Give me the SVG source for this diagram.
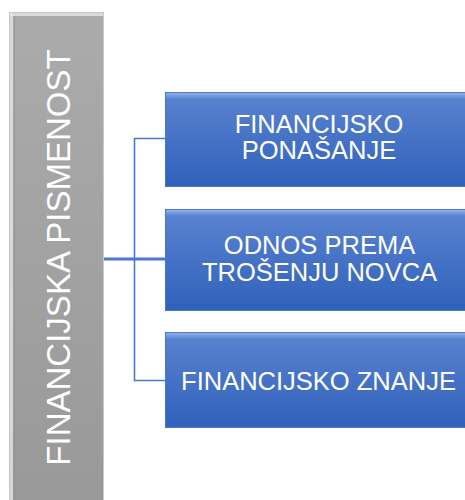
<svg xmlns="http://www.w3.org/2000/svg" width="465" height="500" viewBox="0 0 465 500">
<defs>
<linearGradient id="blue" x1="0" y1="0" x2="0" y2="1">
<stop offset="0" stop-color="#5b84d1"/>
<stop offset="1" stop-color="#3061bb"/>
</linearGradient>
<linearGradient id="gray" x1="0" y1="0" x2="0" y2="1">
<stop offset="0" stop-color="#ababab"/>
<stop offset="1" stop-color="#999999"/>
</linearGradient>
<linearGradient id="blueTop" x1="0" y1="0" x2="0" y2="1">
<stop offset="0" stop-color="#8fb0ec"/>
<stop offset="1" stop-color="#8fb0ec" stop-opacity="0"/>
</linearGradient>
</defs>
<style>
.box{fill:url(#blue);stroke:#4a78cc;stroke-width:1}
.hl{fill:url(#blueTop)}
.t{font-family:"Liberation Sans",Arial,sans-serif;font-size:25.5px;fill:#ffffff;text-anchor:middle}
.conn{fill:none;stroke:#4a78cc}
</style>
<rect width="465" height="500" fill="#ffffff"/>
<g id="connectors">
<path class="conn" stroke-width="3" d="M104,259 H166"/>
<path class="conn" stroke-width="1.6" d="M166,138.5 H134.5 V380.5 H166"/>
</g>
<g id="root">
<rect x="9.5" y="12.5" width="94" height="490" fill="url(#gray)" stroke="#c8c8c8" stroke-width="1"/>
<rect x="10" y="13" width="93" height="3" fill="#e6e6e6" opacity="0.8"/>
<rect x="10" y="13" width="3" height="487" fill="#e6e6e6" opacity="0.8"/>
<rect x="14" y="17" width="1" height="483" fill="#8d8d8d" opacity="0.6"/>
<text class="t" style="font-size:33px" transform="translate(70,257.5) rotate(-90)">FINANCIJSKA PISMENOST</text>
</g>
<g id="n1">
<rect class="box" x="165.5" y="92.5" width="305" height="94"/>
<rect class="hl" x="166" y="93" width="304" height="6"/>
<text class="t" x="319" y="133">FINANCIJSKO</text>
<text class="t" x="319" y="159">PONAŠANJE</text>
</g>
<g id="n2">
<rect class="box" x="165.5" y="209.5" width="305" height="101"/>
<rect class="hl" x="166" y="210" width="304" height="6"/>
<text class="t" x="319.5" y="254">ODNOS PREMA</text>
<text class="t" x="319.5" y="280.5">TROŠENJU NOVCA</text>
</g>
<g id="n3">
<rect class="box" x="165.5" y="332.5" width="305" height="95"/>
<rect class="hl" x="166" y="333" width="304" height="6"/>
<text class="t" x="318.5" y="389.5">FINANCIJSKO ZNANJE</text>
</g>
</svg>
